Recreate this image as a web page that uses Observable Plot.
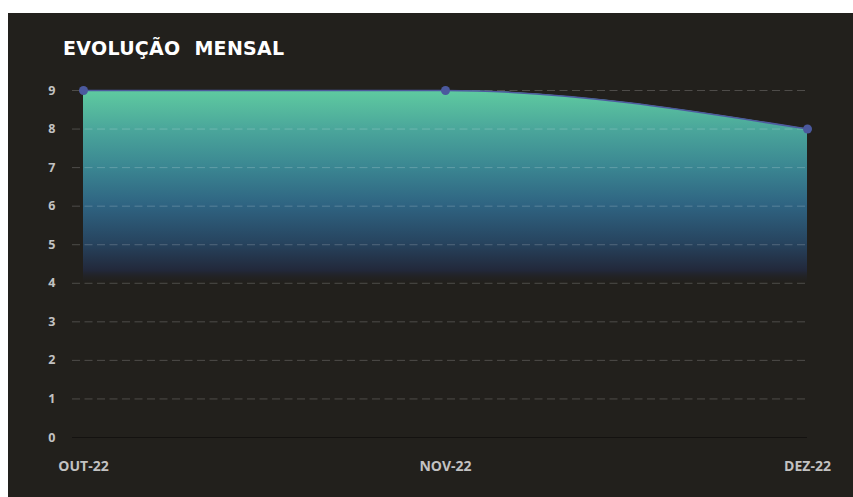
<!DOCTYPE html>
<html>
<head>
<meta charset="utf-8">
<script src="https://cdn.jsdelivr.net/npm/d3@7"></script>
<script src="https://cdn.jsdelivr.net/npm/@observablehq/plot@0.6"></script>
<style>
  html, body { margin: 0; padding: 0; background: #ffffff; }
  #panel { position: absolute; left: 8px; top: 13px; width: 845px; height: 484px; background: #22201c; overflow: hidden; }
  #title { position: absolute; left: 55px; top: 26px; font-family: "DejaVu Sans", sans-serif; font-weight: 700; font-size: 19px; line-height: 1; color: #ffffff; white-space: pre; letter-spacing: 0.3px; }
  #chart { position: absolute; left: 0; top: 0; }
  #chart svg g[aria-label^="y-axis"] text { font-size: 12.5px; }
</style>
</head>
<body>
<div id="panel">
  <div id="chart"></div>
  <div id="title">EVOLUÇÃO  MENSAL</div>
</div>
<script>
const months = ["OUT-22", "NOV-22", "DEZ-22"];
const values = [9, 9, 8];
const gridValues = [1, 2, 3, 4, 5, 6, 7, 8, 9];

const data = months.map((m, i) => ({month: m, value: values[i]}));

const chart = Plot.plot({
  width: 845,
  height: 484,
  marginLeft: 64,
  marginRight: 46,
  marginTop: 77,
  marginBottom: 60,
  style: {
    background: "transparent",
    color: "#c2c2c2",
    fontFamily: "'Open Sans', sans-serif",
    fontSize: "14px",
    fontWeight: 700
  },
  x: {type: "point", domain: months, padding: 0, insetLeft: 10, tickSize: 0, tickPadding: 24, label: null},
  y: {domain: [0, 9], ticks: 10, tickSize: 0, tickPadding: 17, tickFormat: d => String(d), label: null},
  marks: [
    Plot.areaY(data, {x: "month", y: "value", curve: "monotone-x", fill: "url(#areaGrad)"}),
    Plot.ruleY(gridValues, {stroke: "#ffffff", strokeOpacity: 0.2, strokeWidth: 1, strokeDasharray: "8,4.5"}),
    Plot.ruleY([0], {stroke: "#141210", strokeWidth: 1.2}),
    Plot.lineY(data, {x: "month", y: "value", curve: "monotone-x", stroke: "#4e5a9e", strokeWidth: 1.5}),
    Plot.dot(data, {x: "month", y: "value", r: 4.5, fill: "#4b599e", stroke: "none"})
  ]
});

const svg = d3.select(chart);
const defs = svg.insert("defs", ":first-child");
const grad = defs.append("linearGradient")
  .attr("id", "areaGrad")
  .attr("x1", 0).attr("y1", 0).attr("x2", 0).attr("y2", 1);
[
  [0.0, "#5fcba0", 1],
  [0.11, "#4ba79b", 1],
  [0.22, "#3b8792", 1],
  [0.33, "#2f6482", 1],
  [0.44, "#27445f", 1],
  [0.52, "#22283a", 1],
  [0.56, "#22201c", 0]
].forEach(([o, c, a]) => grad.append("stop").attr("offset", o).attr("stop-color", c).attr("stop-opacity", a));

document.getElementById("chart").appendChild(chart);
</script>
</body>
</html>
